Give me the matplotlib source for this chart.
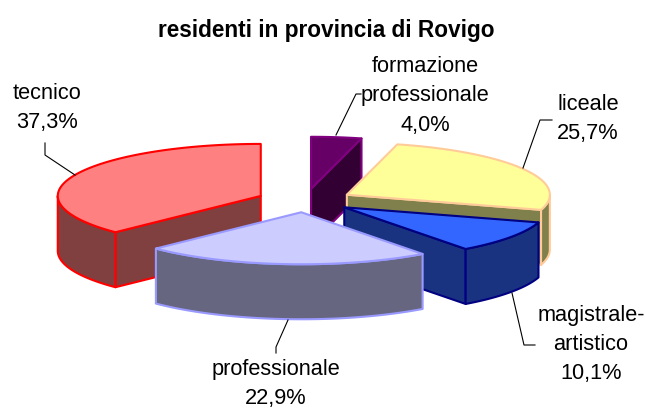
import numpy as np
import matplotlib
matplotlib.use("Agg")
import matplotlib.pyplot as plt
from matplotlib.patches import Polygon

plt.rcParams['font.family'] = ['Liberation Sans', 'DejaVu Sans']

# --- data ---
categories = ["formazione\nprofessionale", "liceale", "magistrale-\nartistico", "professionale", "tecnico"]
values = [4.0, 25.7, 10.1, 22.9, 37.3]
title = "residenti in provincia di Rovigo"

# --- style ---
top_colors = ["#660066", "#FFFF99", "#3366FF", "#CCCCFF", "#FF8080"]
side_colors = ["#330033", "#80804D", "#1A3380", "#666680", "#804040"]
edge_colors = ["#800080", "#FFCC99", "#000080", "#9999FF", "#FF0000"]
draw_order = [0, 4, 1, 2, 3]

CX, CY = 305.0, 200.5   # pie centre (px)
RX, RY = 203.0, 52.0    # radii
EX, EY = 48.0, 11.8     # explosion
DEPTH = 55.0
EDGE_LW = 1.5

W, H = 645, 408
fig = plt.figure(figsize=(W / 100, H / 100), dpi=100, facecolor="white")
ax = fig.add_axes([0, 0, 1, 1])
ax.set_xlim(0, W)
ax.set_ylim(H, 0)
ax.axis("off")

total = sum(values)
edges = np.concatenate([[0], np.cumsum(values)]) / total * 2 * np.pi


def point(cx, cy, a):
    return cx + RX * np.sin(a), cy - RY * np.cos(a)


def arc(cx, cy, a0, a1):
    t = np.linspace(a0, a1, max(2, int(abs(a1 - a0) * 60)))
    return np.column_stack(point(cx, cy, t))


def face(pts, idx, z):
    pts = np.asarray(pts)
    lower = pts[::-1] + [0, DEPTH]
    ax.add_patch(Polygon(np.vstack([pts, lower]), closed=True, facecolor=side_colors[idx],
                         edgecolor=edge_colors[idx], lw=EDGE_LW, joinstyle="round", zorder=z))


for z, i in enumerate(draw_order):
    a0, a1 = edges[i], edges[i + 1]
    mid = (a0 + a1) / 2
    cx = CX + EX * np.sin(mid)
    cy = CY - EY * np.cos(mid)
    base = 10 * (z + 1)
    apex = np.array([[cx, cy]])
    # cut faces that look towards the viewer
    if np.sin(a0) < -1e-6:
        face(np.vstack([apex, [point(cx, cy, a0)]]), i, base)
    if np.sin(a1) > 1e-6:
        face(np.vstack([apex, [point(cx, cy, a1)]]), i, base)
    # outer rim (front half only)
    r0, r1 = max(a0, np.pi / 2), min(a1, 3 * np.pi / 2)
    if r1 > r0:
        face(arc(cx, cy, r0, r1), i, base + 1)
    # top
    ax.add_patch(Polygon(np.vstack([apex, arc(cx, cy, a0, a1)]), closed=True,
                         facecolor=top_colors[i], edgecolor=edge_colors[i],
                         lw=EDGE_LW, joinstyle="round", zorder=base + 2))

ax.text(326, 30, title, ha="center", va="center", fontsize=16.3, fontweight="bold", zorder=100)

# (label centre x, centre y, leader polyline)
label_pos = [
    (425, 96, [(336, 135), (356, 94), (361, 94)]),
    (588, 119.5, [(523, 168), (540, 120), (552, 120)]),
    (591, 345, [(512, 293), (524, 345), (535, 345)]),
    (276, 384, [(288, 320), (276, 347), (276, 353)]),
    (47, 108, [(75, 175), (45, 155), (45, 143)]),
]
for i, (lx, ly, leader) in enumerate(label_pos):
    text = f"{categories[i]}\n{values[i]:.1f}%".replace(".", ",")
    ax.text(lx, ly, text, ha="center", va="center", fontsize=15.7, linespacing=1.5, color="black", zorder=100)
    xs, ys = zip(*leader)
    ax.plot(xs, ys, color="black", lw=0.8, zorder=99)

fig.savefig("out.png", dpi=100, facecolor="white")
